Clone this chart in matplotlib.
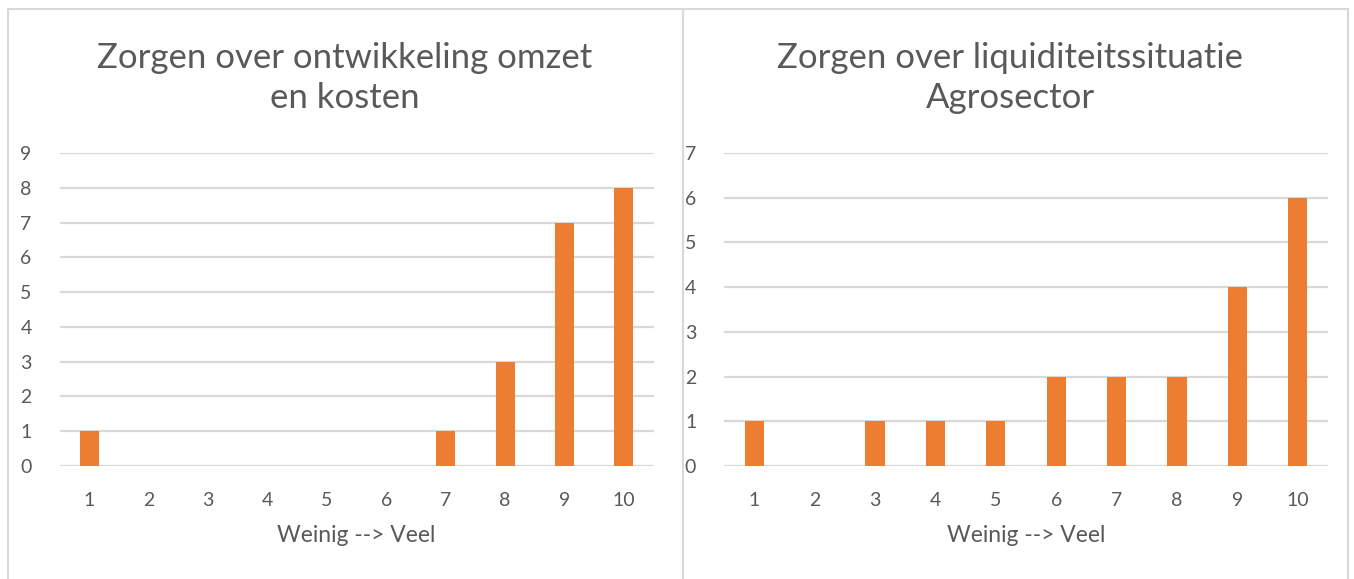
import matplotlib.pyplot as plt
from matplotlib.patches import Rectangle

categories = [1, 2, 3, 4, 5, 6, 7, 8, 9, 10]
omzet_kosten = [1, 0, 0, 0, 0, 0, 1, 3, 7, 8]
liquiditeit = [1, 0, 1, 1, 1, 2, 2, 2, 4, 6]
titles = ["Zorgen over ontwikkeling omzet\nen kosten",
          "Zorgen over liquiditeitssituatie\nAgrosector"]
xlabel = "Weinig --> Veel"

bar_color = "#ED7D31"
grid_color = "#D9D9D9"
text_color = "#595959"

plt.rcParams['font.family'] = ['Lato', 'DejaVu Sans']

W, H = 1354, 579
fig = plt.figure(figsize=(W / 100, H / 100), dpi=100)

# panel borders (pixel coords converted to figure fraction)
for x0, x1 in [(8, 683), (683, 1348)]:
    fig.patches.append(Rectangle((x0 / W, -0.1), (x1 - x0) / W, (H - 9) / H + 0.1,
                                 transform=fig.transFigure, fill=False,
                                 edgecolor=grid_color, linewidth=1.5))


def draw_panel(ax, values, ymax, title, center_x):
    x = list(range(len(categories)))
    ax.bar(x, values, width=0.32, color=bar_color, zorder=3)
    ax.set_xlim(-0.5, len(categories) - 0.5)
    ax.set_ylim(0, ymax)
    ax.set_yticks(range(ymax + 1))
    ax.set_xticks(x)
    ax.set_xticklabels([str(c) for c in categories])
    ax.grid(axis='y', color=grid_color, linewidth=1.6, zorder=0)
    for s in ax.spines.values():
        s.set_visible(False)
    ax.tick_params(length=0, labelsize=14, colors=text_color)
    ax.tick_params(axis='x', pad=19)
    ax.tick_params(axis='y', pad=20)
    ax.set_xlabel(xlabel, fontsize=16.5, color=text_color, labelpad=11)
    fig.text(center_x / W, 1 - 78 / H, title, ha='center', va='center',
             fontsize=25, color=text_color, linespacing=1.3)


ax1 = fig.add_axes([59.5 / W, 1 - 466 / H, (653.7 - 59.5) / W, (466 - 153) / H])
draw_panel(ax1, omzet_kosten, 9, titles[0], 345)

ax2 = fig.add_axes([724 / W, 1 - 466 / H, (1328 - 724) / W, (466 - 153) / H])
draw_panel(ax2, liquiditeit, 7, titles[1], 1010)

fig.savefig("out.png", dpi=100)
